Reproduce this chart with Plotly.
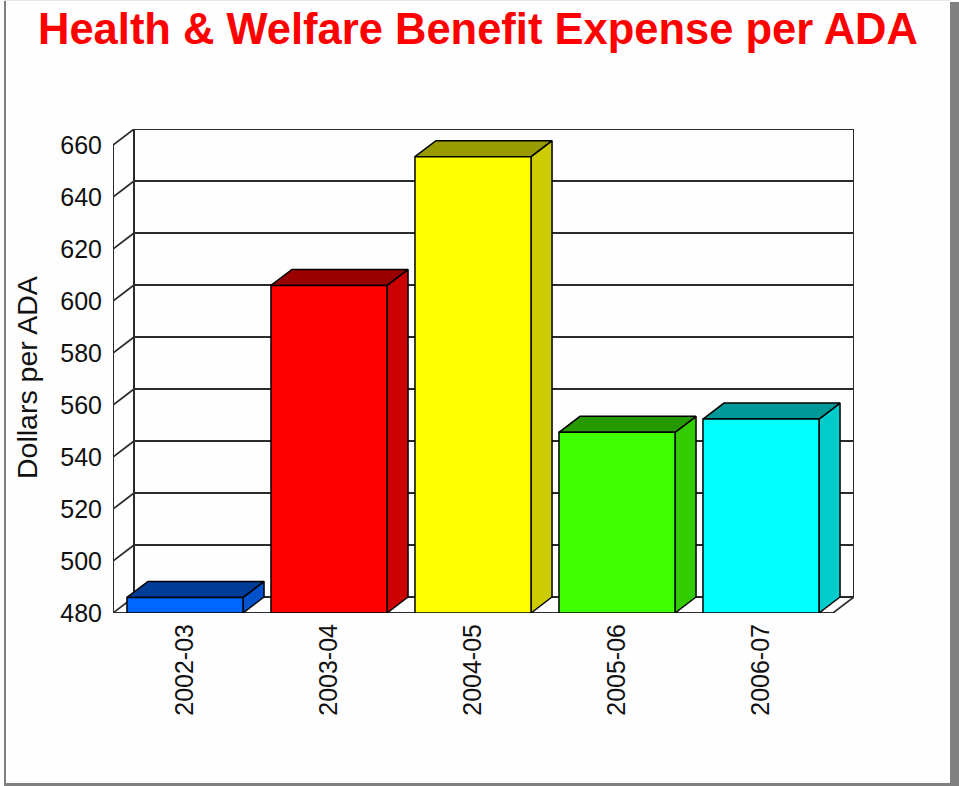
import plotly.graph_objects as go

# Data
categories = ["2002-03", "2003-04", "2004-05", "2005-06", "2006-07"]
values = [486.0, 606.0, 655.5, 549.5, 554.6]
front_colors = ["#0066FF", "#FF0000", "#FFFF00", "#40FF00", "#00FFFF"]
top_colors = ["#003D99", "#990000", "#999900", "#269900", "#009999"]
side_colors = ["#0052CC", "#CC0000", "#CCCC00", "#33CC00", "#00CCCC"]
y_ticks = [480, 500, 520, 540, 560, 580, 600, 620, 640, 660]

# Canvas and plot-area geometry (pixels)
W, H = 959, 786
L, R, T, B = 113, 854, 129, 613
PX_PER_CAT = 144.0
PX_PER_UNIT = 2.6
DEPTH_X_PX, DEPTH_Y_PX = 21, 16

DX = DEPTH_X_PX / PX_PER_CAT          # depth offset in category units
DY = DEPTH_Y_PX / PX_PER_UNIT         # depth offset in value units
Y0, Y1 = y_ticks[0], y_ticks[-1]
X0, X1 = -0.5, len(categories) - 0.5
HALF = 0.403                           # half bar width (category units)


def px_x(p):
    return (p - L) / (R - L)


def px_y(p):
    return (B - p) / (B - T)


fig = go.Figure()

line_col = "#2a2a2a"


def add_line(xs, ys, width=2, color=line_col):
    fig.add_trace(go.Scatter(x=xs, y=ys, mode="lines",
                             line=dict(color=color, width=width),
                             hoverinfo="skip", showlegend=False,
                             cliponaxis=False))


# Back wall gridlines
for v in y_ticks:
    add_line([X0 + DX, X1 + DX], [v + DY, v + DY])
# Back wall verticals
add_line([X0 + DX, X0 + DX], [Y0 + DY, Y1 + DY])
add_line([X1 + DX, X1 + DX], [Y0 + DY, Y1 + DY])
# Left wall depth ticks
for v in y_ticks:
    add_line([X0, X0 + DX], [v, v + DY], width=1.6)
# Front value axis
add_line([X0, X0], [Y0, Y1])
# Floor front edge and right depth edge
add_line([X0, X1], [Y0, Y0])
add_line([X1, X1 + DX], [Y0, Y0 + DY], width=1.6)


def add_poly(xs, ys, color):
    fig.add_trace(go.Scatter(x=xs + [xs[0]], y=ys + [ys[0]], mode="lines",
                             fill="toself", fillcolor=color,
                             line=dict(color="#000000", width=1.5),
                             hoverinfo="skip", showlegend=False,
                             cliponaxis=False))


# 3D bars: side, top, then front face
for i, v in enumerate(values):
    xl, xr = i - HALF, i + HALF
    add_poly([xr, xr + DX, xr + DX, xr], [Y0, Y0 + DY, v + DY, v], side_colors[i])
    add_poly([xl, xr, xr + DX, xl + DX], [v, v, v + DY, v + DY], top_colors[i])
    add_poly([xl, xr, xr, xl], [Y0, Y0, v, v], front_colors[i])

font_family = "Liberation Sans, Arial, sans-serif"

fig.update_layout(
    width=W, height=H,
    margin=dict(l=L, r=W - R, t=T, b=H - B, pad=0),
    paper_bgcolor="#FEFEFE", plot_bgcolor="rgba(0,0,0,0)",
    font=dict(family=font_family, color="#111111"),
    xaxis=dict(range=[X0, X1 + DX], tickmode="array",
               tickvals=list(range(len(categories))), ticktext=categories,
               tickangle=-90, tickfont=dict(size=25),
               showgrid=False, zeroline=False, showline=False,
               ticks="", ticklabelstandoff=5, fixedrange=True),
    yaxis=dict(range=[Y0, Y1 + DY], tickmode="array", tickvals=y_ticks,
               ticktext=[str(v) for v in y_ticks], tickfont=dict(size=25),
               showgrid=False, zeroline=False, showline=False,
               ticks="", ticklabelstandoff=10, fixedrange=True),
    showlegend=False,
)

# Title and axis title
fig.add_annotation(text="<b>Health & Welfare Benefit Expense per ADA</b>",
                   xref="paper", yref="paper", x=px_x(478), y=px_y(29),
                   xanchor="center", yanchor="middle", showarrow=False,
                   font=dict(size=43.5, color="#FF0000", family=font_family))
fig.add_annotation(text="Dollars per ADA", textangle=-90,
                   xref="paper", yref="paper", x=px_x(27), y=px_y(378),
                   xanchor="center", yanchor="middle", showarrow=False,
                   font=dict(size=28.5, color="#111111", family=font_family))

# Page frame
frame = "#808080"
fig.add_shape(type="rect", xref="paper", yref="paper",
              x0=px_x(4), x1=px_x(6), y0=px_y(786), y1=px_y(0),
              fillcolor=frame, line_width=0, layer="above")
fig.add_shape(type="rect", xref="paper", yref="paper",
              x0=px_x(4), x1=px_x(959), y0=px_y(786), y1=px_y(783),
              fillcolor=frame, line_width=0, layer="above")
fig.add_shape(type="rect", xref="paper", yref="paper",
              x0=px_x(950), x1=px_x(959), y0=px_y(786), y1=px_y(2),
              fillcolor=frame, line_width=0, layer="above")
fig.add_shape(type="line", xref="paper", yref="paper",
              x0=px_x(4), x1=px_x(950), y0=px_y(0.5), y1=px_y(0.5),
              line=dict(color="#E6E6E6", width=1), layer="above")

fig.write_html("out.html")
